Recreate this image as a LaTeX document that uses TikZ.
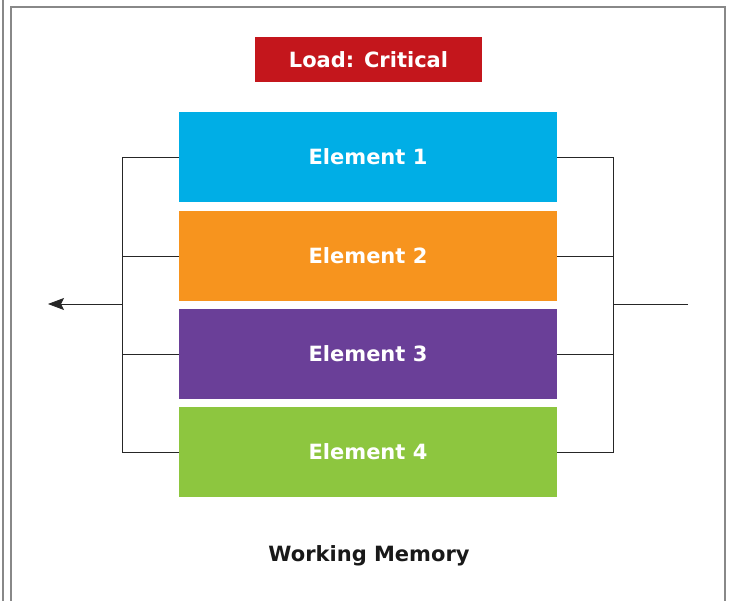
\documentclass[tikz,border=0pt]{standalone}
\usepackage{fontspec}
\setmainfont{DejaVu Sans}
\usepackage{xcolor}
\usetikzlibrary{arrows.meta}

\definecolor{elemcyan}{RGB}{0,174,230}
\definecolor{elemorange}{RGB}{247,148,30}
\definecolor{elempurple}{RGB}{106,63,152}
\definecolor{elemgreen}{RGB}{141,198,63}
\definecolor{loadred}{RGB}{196,22,28}
\definecolor{framegrey}{RGB}{136,136,136}

\begin{document}
\begin{tikzpicture}[x=1pt, y=-1pt,
    elembox/.style={minimum width=378pt, minimum height=90pt, inner sep=0pt,
      text=white, font=\fontsize{21}{24}\selectfont\bfseries},
    wire/.style={line width=0.8pt, draw=black!85}
  ]
  \useasboundingbox (0,0) rectangle (733,601);
  % outer frame
  \draw[framegrey, line width=1.4pt]
    (11,601) -- (11,7) -- (725,7) -- (725,601)
    (3,0) -- (3,601)
  ;
  \node (load) [fill=loadred, minimum width=227pt, minimum height=45pt,
    inner sep=0pt, text=white, font=\fontsize{21}{24}\selectfont\bfseries]
    at (368.5,59.5) {Load: Critical};
  \node (e1) [elembox, fill=elemcyan]   at (368,157) {Element 1};
  \node (e2) [elembox, fill=elemorange] at (368,256) {Element 2};
  \node (e3) [elembox, fill=elempurple] at (368,354) {Element 3};
  \node (e4) [elembox, fill=elemgreen]  at (368,452) {Element 4};
  \node (wm) [anchor=base, inner sep=0pt,
    font=\fontsize{21}{24}\selectfont\bfseries, text=black!90]
    at (369,561) {Working Memory};
  % brackets
  \coordinate (L1) at (122,157);
  \coordinate (L4) at (122,452);
  \coordinate (R1) at (613,157);
  \coordinate (R4) at (613,452);
  \coordinate (Lmid) at (122,304);
  \coordinate (Rmid) at (613,304);
  \coordinate (out) at (48,304);
  \coordinate (in) at (688,304);
  \draw[wire] (e1.west) -- (L1) -- (L4) -- (e4.west);
  \draw[wire] (e2.west) -- (e2.west -| L1);
  \draw[wire] (e3.west) -- (e3.west -| L1);
  \draw[wire] (e1.east) -- (R1) -- (R4) -- (e4.east);
  \draw[wire] (e2.east) -- (e2.east -| R1);
  \draw[wire] (e3.east) -- (e3.east -| R1);
  \draw[wire, -{Stealth[length=16pt, width=12pt, inset=3pt]}] (Lmid) -- (out);
  \draw[wire] (in) -- (Rmid);
\end{tikzpicture}
\end{document}
